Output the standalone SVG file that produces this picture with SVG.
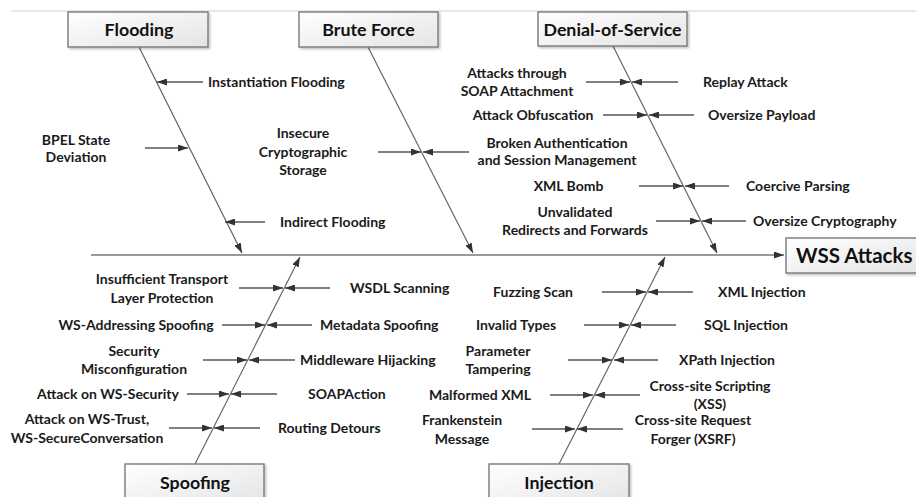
<svg xmlns="http://www.w3.org/2000/svg" width="916" height="497" viewBox="0 0 916 497">
<style>
.lbl{font-family:Lato,"Liberation Sans",sans-serif;font-weight:700;font-size:14px;fill:#1a1a1a}
.mid{text-anchor:middle}
.ttl{font-family:Lato,"Liberation Sans",sans-serif;font-weight:700;font-size:17.8px;fill:#111;text-anchor:middle}
.box{fill:url(#g);stroke:#7a7a7a;stroke-width:1.4;filter:url(#sh)}
.sub{stroke:#555;stroke-width:1.3;fill:none}
.bone{stroke:#666;stroke-width:1.2;fill:none}
.spine{stroke:#999;stroke-width:2.2;fill:none}
</style>
<defs>
<linearGradient id="g" x1="0" y1="0" x2="1" y2="1">
<stop offset="0" stop-color="#ffffff"/>
<stop offset="1" stop-color="#e4e4e4"/>
</linearGradient>
<filter id="sh" x="-10%" y="-20%" width="130%" height="150%">
<feDropShadow dx="1.5" dy="1.5" stdDeviation="1" flood-color="#000" flood-opacity="0.25"/>
</filter>
<marker id="ah" viewBox="0 0 10 7" refX="10" refY="3.5" markerWidth="10" markerHeight="7" markerUnits="userSpaceOnUse" orient="auto">
<path d="M0,0 L10,3.5 L0,7 z" fill="#333"/>
</marker>
</defs>
<rect width="916" height="497" fill="#fff"/>
<line x1="11" y1="11" x2="916" y2="11" stroke="#cfcfcf" stroke-width="1"/>

<g id="connectors">
<line class="spine" x1="91" y1="255" x2="784" y2="255" marker-end="url(#ah)"/>
<line class="bone" x1="139" y1="47" x2="242" y2="253" marker-end="url(#ah)"/>
<line class="bone" x1="368" y1="47" x2="473" y2="253" marker-end="url(#ah)"/>
<line class="bone" x1="613" y1="46" x2="717" y2="253" marker-end="url(#ah)"/>
<line class="bone" x1="195" y1="464" x2="300" y2="257" marker-end="url(#ah)"/>
<line class="bone" x1="559" y1="464" x2="665" y2="257" marker-end="url(#ah)"/>
<line class="sub" x1="203" y1="82" x2="157" y2="82" marker-end="url(#ah)"/>
<line class="sub" x1="145" y1="148" x2="188" y2="148" marker-end="url(#ah)"/>
<line class="sub" x1="265" y1="222" x2="225" y2="222" marker-end="url(#ah)"/>
<line class="sub" x1="378" y1="152" x2="421" y2="152" marker-end="url(#ah)"/>
<line class="sub" x1="469" y1="152" x2="423" y2="152" marker-end="url(#ah)"/>
<line class="sub" x1="586" y1="82" x2="630" y2="82" marker-end="url(#ah)"/>
<line class="sub" x1="678" y1="82" x2="632" y2="82" marker-end="url(#ah)"/>
<line class="sub" x1="603" y1="115" x2="647" y2="115" marker-end="url(#ah)"/>
<line class="sub" x1="694" y1="115" x2="649" y2="115" marker-end="url(#ah)"/>
<line class="sub" x1="639" y1="186" x2="683" y2="186" marker-end="url(#ah)"/>
<line class="sub" x1="729" y1="186" x2="685" y2="186" marker-end="url(#ah)"/>
<line class="sub" x1="656" y1="221" x2="700" y2="221" marker-end="url(#ah)"/>
<line class="sub" x1="746" y1="221" x2="702" y2="221" marker-end="url(#ah)"/>
<line class="sub" x1="239" y1="288" x2="283" y2="288" marker-end="url(#ah)"/>
<line class="sub" x1="330" y1="288" x2="285" y2="288" marker-end="url(#ah)"/>
<line class="sub" x1="222" y1="325" x2="265" y2="325" marker-end="url(#ah)"/>
<line class="sub" x1="312" y1="325" x2="267" y2="325" marker-end="url(#ah)"/>
<line class="sub" x1="203" y1="360" x2="247" y2="360" marker-end="url(#ah)"/>
<line class="sub" x1="295" y1="360" x2="249" y2="360" marker-end="url(#ah)"/>
<line class="sub" x1="187" y1="394" x2="229" y2="394" marker-end="url(#ah)"/>
<line class="sub" x1="277" y1="394" x2="231" y2="394" marker-end="url(#ah)"/>
<line class="sub" x1="169" y1="428" x2="212" y2="428" marker-end="url(#ah)"/>
<line class="sub" x1="260" y1="428" x2="214" y2="428" marker-end="url(#ah)"/>
<line class="sub" x1="602" y1="292" x2="646" y2="292" marker-end="url(#ah)"/>
<line class="sub" x1="693" y1="292" x2="648" y2="292" marker-end="url(#ah)"/>
<line class="sub" x1="584" y1="325" x2="629" y2="325" marker-end="url(#ah)"/>
<line class="sub" x1="676" y1="325" x2="631" y2="325" marker-end="url(#ah)"/>
<line class="sub" x1="568" y1="360" x2="612" y2="360" marker-end="url(#ah)"/>
<line class="sub" x1="658" y1="360" x2="614" y2="360" marker-end="url(#ah)"/>
<line class="sub" x1="550" y1="395" x2="593" y2="395" marker-end="url(#ah)"/>
<line class="sub" x1="640" y1="395" x2="595" y2="395" marker-end="url(#ah)"/>
<line class="sub" x1="532" y1="429" x2="575" y2="429" marker-end="url(#ah)"/>
<line class="sub" x1="623" y1="429" x2="577" y2="429" marker-end="url(#ah)"/>
</g>

<g id="node-flooding">
<rect class="box" x="68" y="12" width="140" height="35"/>
<text class="ttl" x="139" y="36">Flooding</text>
</g>
<g id="node-bruteforce">
<rect class="box" x="299" y="12" width="139" height="35"/>
<text class="ttl" x="368.5" y="36">Brute Force</text>
</g>
<g id="node-dos">
<rect class="box" x="538" y="12" width="149" height="34"/>
<text class="ttl" x="612.5" y="35.5">Denial-of-Service</text>
</g>
<g id="node-spoofing">
<rect class="box" x="125" y="464" width="139" height="40"/>
<text class="ttl" x="195" y="489">Spoofing</text>
</g>
<g id="node-injection">
<rect class="box" x="489" y="464" width="140" height="40"/>
<text class="ttl" x="559" y="489">Injection</text>
</g>
<g id="node-wss">
<rect class="box" x="786" y="238" width="140" height="35"/>
<text class="ttl" x="796" y="263" style="font-size:20.5px;text-anchor:start">WSS Attacks</text>
</g>

<g id="labels-flooding">
<text class="lbl" x="208" y="87">Instantiation Flooding</text>
<text class="lbl mid" x="76" y="145">BPEL State</text>
<text class="lbl mid" x="76" y="162">Deviation</text>
<text class="lbl" x="280" y="227">Indirect Flooding</text>
</g>
<g id="labels-bruteforce">
<text class="lbl mid" x="303" y="138">Insecure</text>
<text class="lbl mid" x="303" y="157">Cryptographic</text>
<text class="lbl mid" x="303" y="175">Storage</text>
<text class="lbl mid" x="557" y="148">Broken Authentication</text>
<text class="lbl mid" x="557" y="165">and Session Management</text>
</g>
<g id="labels-dos">
<text class="lbl mid" x="517" y="78">Attacks through</text>
<text class="lbl mid" x="517" y="96">SOAP Attachment</text>
<text class="lbl" x="703" y="87">Replay Attack</text>
<text class="lbl mid" x="533" y="120">Attack Obfuscation</text>
<text class="lbl" x="708" y="120">Oversize Payload</text>
<text class="lbl mid" x="568.5" y="191">XML Bomb</text>
<text class="lbl" x="746" y="191">Coercive Parsing</text>
<text class="lbl mid" x="575" y="217">Unvalidated</text>
<text class="lbl mid" x="575" y="235">Redirects and Forwards</text>
<text class="lbl" x="753" y="226">Oversize Cryptography</text>
</g>
<g id="labels-spoofing">
<text class="lbl mid" x="162" y="284">Insufficient Transport</text>
<text class="lbl mid" x="162" y="303">Layer Protection</text>
<text class="lbl" x="350" y="293">WSDL Scanning</text>
<text class="lbl mid" x="136" y="330">WS-Addressing Spoofing</text>
<text class="lbl" x="320" y="330">Metadata Spoofing</text>
<text class="lbl mid" x="134" y="356">Security</text>
<text class="lbl mid" x="134" y="374">Misconfiguration</text>
<text class="lbl" x="300" y="365">Middleware Hijacking</text>
<text class="lbl mid" x="108" y="399">Attack on WS-Security</text>
<text class="lbl" x="308" y="399">SOAPAction</text>
<text class="lbl mid" x="87" y="424">Attack on WS-Trust,</text>
<text class="lbl mid" x="87" y="443">WS-SecureConversation</text>
<text class="lbl" x="278" y="433">Routing Detours</text>
</g>
<g id="labels-injection">
<text class="lbl mid" x="533" y="297">Fuzzing Scan</text>
<text class="lbl" x="718" y="297">XML Injection</text>
<text class="lbl mid" x="516" y="330">Invalid Types</text>
<text class="lbl" x="704" y="330">SQL Injection</text>
<text class="lbl mid" x="498" y="356">Parameter</text>
<text class="lbl mid" x="498" y="374">Tampering</text>
<text class="lbl" x="679" y="365">XPath Injection</text>
<text class="lbl mid" x="480" y="400">Malformed XML</text>
<text class="lbl mid" x="710" y="391">Cross-site Scripting</text>
<text class="lbl mid" x="710" y="409">(XSS)</text>
<text class="lbl mid" x="462" y="425">Frankenstein</text>
<text class="lbl mid" x="462" y="444">Message</text>
<text class="lbl mid" x="693" y="425">Cross-site Request</text>
<text class="lbl mid" x="693" y="444">Forger (XSRF)</text>
</g>
</svg>
